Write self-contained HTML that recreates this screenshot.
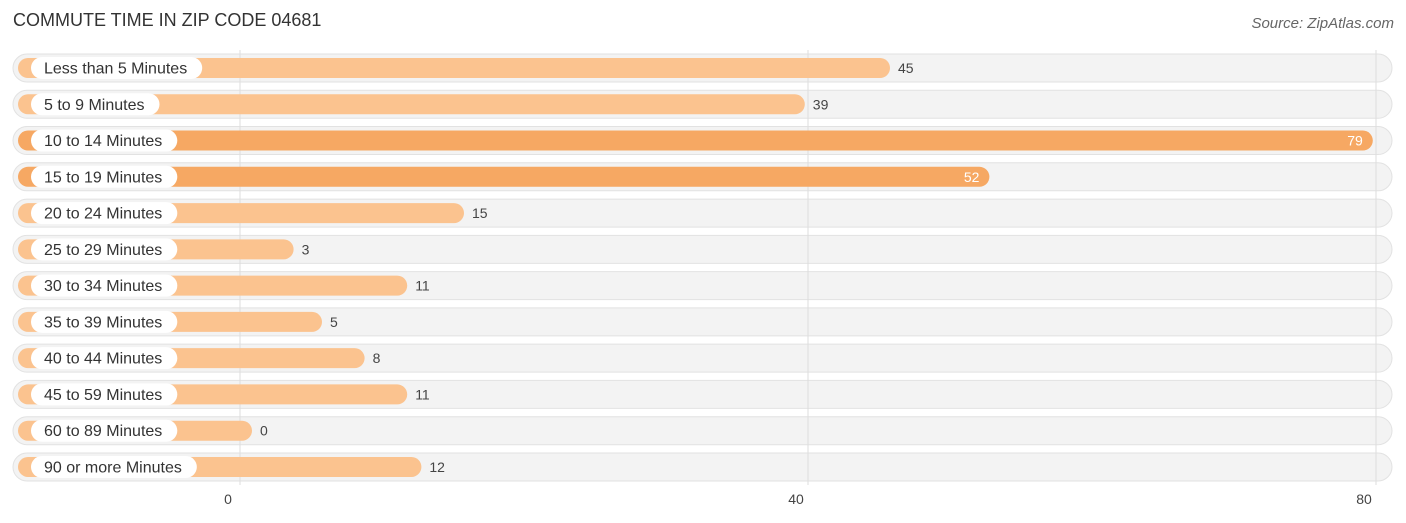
<!DOCTYPE html>
<html><head><meta charset="utf-8"><style>
body{margin:0;width:1406px;height:523px;background:#fff;font-family:"Liberation Sans",sans-serif;position:relative;overflow:hidden}
.t{position:absolute;left:13px;top:10px;font-size:18px;color:#333}
.s{position:absolute;right:12px;top:15px;font-size:15px;color:#666;font-style:italic}
</style></head><body>
<div class="t">COMMUTE TIME IN ZIP CODE 04681</div>
<div class="s">Source: ZipAtlas.com</div>
<svg id="c" width="1406" height="523" style="position:absolute;left:0;top:0"></svg>
<script>
const categories=["Less than 5 Minutes","5 to 9 Minutes","10 to 14 Minutes","15 to 19 Minutes","20 to 24 Minutes","25 to 29 Minutes","30 to 34 Minutes","35 to 39 Minutes","40 to 44 Minutes","45 to 59 Minutes","60 to 89 Minutes","90 or more Minutes"];
const values=[45,39,79,52,15,3,11,5,8,11,0,12];
const ticks=[0,40,80];
const svg=document.getElementById('c');const NS='http://www.w3.org/2000/svg';
const sx=v=>251+v*14.2; const gx=v=>240+v*14.2;
const rowY=i=>68+i*36.27;
function mk(t,a,p){const e=document.createElementNS(NS,t);for(const k in a)e.setAttribute(k,a[k]);(p||svg).appendChild(e);return e;}
const tw=document.createElement('canvas').getContext('2d');tw.font='16px "Liberation Sans"';
categories.forEach((c,i)=>{
 const y=rowY(i);
 const g=mk('g',{});
 
 
 mk('rect',{x:13,y:y-14,width:1379,height:28,rx:14,fill:'#f3f3f3',stroke:'#e2e2e2'},g);
});
ticks.forEach(t=>{
 const l=mk('line',{x1:gx(t),x2:gx(t),y1:50,y2:485,stroke:'#ddd'});
 
 
 const tx=mk('text',{x:gx(t)-12,y:504,'font-size':14,fill:'#444','text-anchor':'middle'});
 tx.textContent=t;
 
 
});
categories.forEach((c,i)=>{
 const y=rowY(i),v=values[i];
 const strong=v>50;
 const b=mk('rect',{x:18,y:y-10,width:Math.max(sx(v),252)-18,height:20,rx:10,fill:strong?'#f6a863':'#fbc38f'});
 
 
 const w=tw.measureText(c).width+28;
 const p=mk('rect',{x:31,y:y-11,width:w,height:22,rx:11,fill:'#fff'});
 
 
 const lt=mk('text',{x:44,y:y+5.5,'font-size':16,fill:'#333'});
 lt.textContent=c;
 
 
 const end=Math.max(sx(v),252);
 const vt=mk('text',strong?{x:end-10,y:y+5,'font-size':14,fill:'#fff','text-anchor':'end'}:{x:end+8,y:y+5,'font-size':14,fill:'#444'});
 vt.textContent=v;
 
 
});
</script>
</body></html>
